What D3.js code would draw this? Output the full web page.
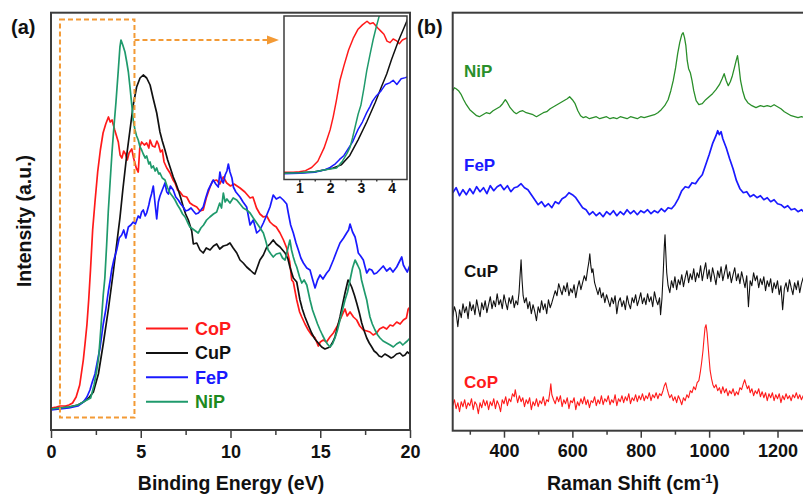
<!DOCTYPE html>
<html>
<head>
<meta charset="utf-8">
<script src="https://cdn.jsdelivr.net/npm/d3@7"></script>
<style>
  body { margin: 0; background: #fff; }
  text { font-family: Arial, "Liberation Sans", sans-serif; font-weight: bold; }
</style>
</head>
<body>
<div id="chart"></div>
<script>
// ---------- data: (a) valence band XPS, [binding energy eV, intensity a.u.] ----------
var xpsCoP = [[0,22],[0.3,23],[0.5,24],[0.8,24],[1.0,25],[1.2,27],[1.4,33],[1.6,45],[1.8,70],[1.9,87],[2.0,105],[2.1,130],[2.2,160],[2.32,200],[2.45,228],[2.6,258],[2.75,280],[2.9,297],[3.05,306],[3.2,313],[3.3,308],[3.4,310],[3.55,300],[3.65,294],[3.75,288],[3.85,275],[3.95,272],[4.05,279],[4.15,276],[4.25,270],[4.35,277],[4.5,281],[4.6,272],[4.75,262],[4.86,258],[4.95,283],[5.05,288],[5.2,285],[5.33,287],[5.45,282],[5.52,290],[5.65,284],[5.79,283],[5.9,289],[5.98,286],[6.1,278],[6.2,280],[6.3,268],[6.45,262],[6.63,257],[6.8,250],[6.91,247],[7.05,240],[7.19,238],[7.35,234],[7.56,233],[7.74,227],[7.9,225],[8.12,223],[8.3,219],[8.48,220],[8.65,232],[8.86,243],[9.0,249],[9.23,250],[9.4,246],[9.6,253],[9.79,247],[10.0,244],[10.2,246],[10.53,242],[10.8,238],[11.09,232],[11.25,233],[11.45,222],[11.64,216],[11.83,213],[12.02,214],[12.2,208],[12.38,205],[12.55,203],[12.76,197],[12.95,190],[13.13,182],[13.3,168],[13.41,150],[13.5,148],[13.69,130],[13.85,118],[13.97,113],[14.15,106],[14.33,100],[14.52,95],[14.71,92],[14.89,84],[15.0,88],[15.17,90],[15.35,88],[15.54,93],[15.73,97],[15.92,103],[16.1,110],[16.25,116],[16.38,121],[16.5,114],[16.66,118],[16.85,113],[17.03,110],[17.2,104],[17.4,100],[17.6,99],[17.77,98],[17.95,95],[18.14,97],[18.3,101],[18.51,103],[18.7,101],[18.89,105],[19.05,104],[19.26,108],[19.45,106],[19.63,110],[19.8,112],[19.9,121],[20,123]];
var xpsCuP = [[0,21],[0.5,22],[1.0,23],[1.5,25],[1.8,28],[2.1,32],[2.36,38],[2.64,56],[2.91,86],[3.19,120],[3.47,158],[3.66,186],[3.84,212],[4.0,240],[4.22,275],[4.4,300],[4.58,325],[4.77,343],[4.96,352],[5.14,355],[5.33,352],[5.52,345],[5.7,331],[5.89,317],[6.07,298],[6.2,289],[6.35,280],[6.5,270],[6.63,263],[6.81,253],[6.95,247],[7.09,240],[7.23,232],[7.37,223],[7.5,216],[7.65,210],[7.84,199],[7.93,186],[8.12,187],[8.3,180],[8.48,177],[8.65,182],[8.86,180],[9.05,184],[9.23,186],[9.4,181],[9.6,184],[9.8,185],[9.97,187],[10.15,182],[10.35,177],[10.53,170],[10.71,167],[10.9,163],[11.09,160],[11.27,157],[11.36,156],[11.5,163],[11.64,170],[11.83,175],[12.02,183],[12.2,186],[12.38,190],[12.55,186],[12.76,183],[12.9,180],[13.04,177],[13.2,171],[13.31,163],[13.5,152],[13.69,148],[13.87,130],[14.0,121],[14.15,113],[14.33,105],[14.52,97],[14.7,91],[14.89,87],[15.08,83],[15.26,81],[15.4,82],[15.54,83],[15.7,88],[15.82,93],[15.95,102],[16.1,113],[16.25,126],[16.38,137],[16.55,150],[16.62,148],[16.75,143],[16.9,135],[17.03,127],[17.18,117],[17.31,107],[17.45,99],[17.59,92],[17.73,87],[17.87,83],[18.0,79],[18.14,77],[18.28,74],[18.42,73],[18.6,76],[18.79,74],[18.95,72],[19.07,73],[19.25,76],[19.44,77],[19.6,74],[19.72,75],[19.85,78],[20,76]];
var xpsFeP = [[0,20],[0.5,21],[1.0,22],[1.5,24],[1.8,28],[2.0,33],[2.17,40],[2.3,48],[2.45,56],[2.6,70],[2.73,82],[2.85,98],[2.91,106],[3.05,120],[3.19,138],[3.3,150],[3.38,160],[3.5,170],[3.66,180],[3.8,192],[3.94,195],[4.05,200],[4.17,192],[4.31,203],[4.45,205],[4.58,208],[4.7,206],[4.86,214],[4.96,212],[5.05,218],[5.14,220],[5.25,214],[5.33,217],[5.45,225],[5.52,231],[5.6,236],[5.7,244],[5.8,226],[5.89,211],[5.98,228],[6.07,234],[6.2,240],[6.35,247],[6.45,238],[6.54,236],[6.65,244],[6.81,240],[6.95,233],[7.09,230],[7.23,226],[7.37,223],[7.5,219],[7.65,220],[7.8,222],[7.93,219],[8.07,216],[8.21,217],[8.35,220],[8.48,223],[8.62,232],[8.76,240],[8.9,245],[9.04,250],[9.18,246],[9.32,243],[9.41,258],[9.5,250],[9.6,247],[9.7,255],[9.8,259],[9.88,266],[9.97,258],[10.08,252],[10.16,243],[10.3,238],[10.53,233],[10.7,228],[10.9,223],[11.09,205],[11.27,210],[11.46,197],[11.64,200],[11.83,207],[12.02,215],[12.2,223],[12.38,235],[12.55,231],[12.76,233],[12.94,230],[13.13,226],[13.22,217],[13.35,205],[13.5,197],[13.65,187],[13.78,180],[13.92,172],[14.06,167],[14.25,162],[14.43,160],[14.55,152],[14.71,142],[14.85,150],[14.99,155],[15.15,151],[15.36,157],[15.5,160],[15.73,170],[15.9,178],[16.1,187],[16.3,192],[16.47,197],[16.58,200],[16.66,206],[16.8,198],[16.94,193],[17.05,184],[17.12,177],[17.25,174],[17.4,170],[17.5,163],[17.59,157],[17.73,161],[17.87,160],[18.0,156],[18.14,157],[18.3,160],[18.51,164],[18.7,159],[18.89,162],[19.05,158],[19.26,163],[19.4,168],[19.54,173],[19.63,165],[19.72,162],[19.85,158],[20,165]];
var xpsNiP = [[0,21],[0.5,22],[1.0,23],[1.5,25],[1.8,28],[2.0,30],[2.21,32],[2.4,45],[2.55,60],[2.65,72],[2.73,90],[2.81,110],[2.91,135],[3.0,152],[3.1,185],[3.19,218],[3.3,250],[3.4,278],[3.5,302],[3.62,328],[3.75,360],[3.84,383],[3.9,390],[4.0,385],[4.12,378],[4.22,368],[4.31,358],[4.4,343],[4.5,325],[4.58,310],[4.68,300],[4.77,294],[4.86,290],[4.96,283],[5.05,280],[5.14,276],[5.25,272],[5.33,274],[5.45,266],[5.52,268],[5.6,262],[5.7,264],[5.8,259],[5.89,262],[6.0,256],[6.07,257],[6.2,252],[6.35,250],[6.5,242],[6.63,237],[6.8,233],[6.91,230],[7.05,225],[7.19,221],[7.33,216],[7.47,213],[7.6,208],[7.74,203],[7.9,201],[8.05,199],[8.2,197],[8.35,202],[8.5,205],[8.67,210],[8.85,213],[9.05,216],[9.23,218],[9.4,227],[9.5,222],[9.6,237],[9.7,228],[9.8,231],[9.97,227],[10.15,232],[10.35,230],[10.53,226],[10.71,222],[10.9,220],[11.09,217],[11.27,212],[11.46,207],[11.65,202],[11.83,197],[11.95,190],[12.1,180],[12.25,176],[12.38,173],[12.55,176],[12.76,177],[12.9,172],[13.04,170],[13.15,178],[13.31,190],[13.4,180],[13.5,173],[13.6,167],[13.69,163],[13.85,153],[13.97,147],[14.1,150],[14.25,145],[14.43,130],[14.57,120],[14.71,113],[14.85,106],[14.99,100],[15.12,95],[15.26,90],[15.4,86],[15.54,83],[15.68,86],[15.82,92],[15.96,100],[16.1,110],[16.24,120],[16.38,130],[16.52,138],[16.66,150],[16.8,162],[16.94,170],[17.08,165],[17.21,160],[17.3,150],[17.4,143],[17.5,136],[17.59,130],[17.68,121],[17.77,113],[17.9,106],[18.05,100],[18.2,95],[18.33,92],[18.5,89],[18.7,87],[18.9,85],[19.07,83],[19.25,86],[19.44,88],[19.6,85],[19.72,87],[19.85,89],[20,92]];

// ---------- data: (b) Raman spectra, [shift cm-1, intensity a.u. (offset)] ----------
var ramanNiP = [[250,340],[255,343],[260,342],[267,340],[275,336],[282,331],[290,326],[300,321],[310,318],[320,315],[328,314],[338,316],[348,318],[358,317],[368,320],[378,322],[388,324],[396,327],[404,331],[410,328],[418,323],[428,319],[436,317],[445,319],[455,320],[465,318],[475,317],[485,316],[495,314],[505,316],[515,318],[525,319],[535,322],[545,324],[555,326],[565,328],[575,330],[585,332],[592,334],[600,331],[608,327],[616,320],[624,315],[632,313],[640,314],[650,312],[660,313],[670,314],[680,312],[690,313],[700,314],[710,312],[720,313],[730,312],[740,314],[750,313],[760,312],[770,314],[780,313],[790,312],[800,314],[810,313],[820,314],[830,315],[840,316],[850,318],[860,321],[870,325],[880,331],[888,340],[895,350],[902,363],[908,377],[914,388],[920,396],[924,398],[928,393],[932,385],[936,370],[940,362],[945,358],[950,350],[955,340],[962,330],[970,326],[980,327],[990,331],[1000,334],[1010,337],[1020,341],[1030,346],[1038,352],[1044,357],[1050,350],[1056,345],[1062,349],[1068,355],[1074,363],[1079,370],[1083,375],[1087,365],[1092,350],[1098,340],[1105,332],[1113,328],[1125,325],[1137,323],[1150,325],[1160,324],[1170,325],[1180,324],[1190,326],[1200,324],[1210,322],[1220,319],[1230,317],[1240,315],[1250,314],[1260,313],[1270,314],[1280,313],[1300,313]];
var ramanFeP = [[250,238],[260,243],[270,235],[280,241],[290,236],[300,242],[310,237],[320,244],[330,239],[340,243],[350,237],[360,245],[370,240],[380,244],[390,246],[400,241],[410,245],[420,239],[430,243],[440,244],[450,247],[460,243],[470,241],[480,236],[490,231],[500,226],[510,229],[520,224],[530,227],[540,223],[550,229],[560,227],[570,232],[580,234],[590,238],[600,236],[610,233],[620,228],[630,223],[640,221],[650,216],[660,219],[670,215],[680,218],[690,214],[700,219],[710,216],[720,220],[730,215],[740,219],[750,216],[760,221],[770,217],[780,220],[790,216],[800,220],[810,218],[820,221],[830,217],[840,220],[850,218],[860,222],[870,219],[880,223],[890,222],[900,226],[910,232],[920,240],[930,244],[940,243],[950,248],[960,247],[970,252],[980,256],[990,266],[1000,276],[1010,287],[1020,295],[1025,300],[1030,296],[1035,299],[1040,292],[1050,283],[1060,272],[1070,262],[1080,250],[1090,242],[1100,238],[1110,239],[1120,234],[1130,236],[1140,233],[1150,235],[1160,231],[1170,233],[1180,229],[1190,231],[1200,227],[1210,226],[1220,223],[1230,225],[1240,221],[1250,222],[1260,219],[1270,221],[1280,218],[1300,219]];
var ramanCuP = [[250,114],[255,124],[260,118],[265,104],[270,121],[275,113],[280,127],[285,118],[290,124],[295,112],[300,129],[305,120],[310,126],[315,116],[320,131],[325,122],[330,114],[335,128],[340,121],[345,130],[350,118],[355,126],[360,134],[365,122],[370,130],[375,124],[380,137],[385,126],[390,131],[395,122],[400,136],[405,128],[410,121],[415,133],[420,127],[425,135],[430,123],[435,130],[440,126],[444,138],[447,155],[450,171],[453,150],[456,135],[460,128],[465,133],[470,122],[475,129],[480,117],[485,126],[490,119],[495,110],[500,124],[505,118],[510,130],[515,121],[520,127],[525,117],[530,131],[535,123],[540,128],[545,134],[550,140],[555,135],[560,147],[565,141],[570,136],[575,145],[580,139],[585,148],[590,135],[595,142],[600,138],[605,146],[610,133],[615,143],[620,150],[625,141],[630,148],[635,155],[640,150],[645,162],[648,168],[651,177],[654,165],[657,158],[660,162],[665,148],[670,142],[675,136],[680,143],[685,133],[690,138],[695,128],[700,136],[705,130],[710,124],[715,133],[720,127],[725,135],[730,117],[735,129],[740,133],[745,124],[750,130],[755,121],[760,135],[765,127],[770,122],[775,133],[780,128],[785,136],[790,125],[795,131],[800,138],[805,127],[810,133],[815,126],[820,137],[825,129],[830,134],[835,124],[840,139],[845,131],[850,126],[855,133],[858,116],[862,132],[866,160],[869,185],[871,196],[873,180],[876,158],[880,145],[885,138],[890,150],[895,143],[900,154],[905,141],[910,151],[915,146],[920,156],[925,144],[930,153],[935,160],[940,148],[945,157],[950,151],[955,162],[960,149],[965,158],[970,153],[975,165],[980,150],[985,160],[990,168],[995,152],[1000,161],[1005,149],[1010,163],[1015,155],[1020,146],[1025,160],[1030,153],[1035,164],[1040,150],[1045,158],[1050,166],[1055,152],[1060,159],[1065,148],[1070,156],[1075,163],[1080,150],[1085,157],[1090,147],[1095,159],[1100,151],[1105,143],[1110,155],[1115,124],[1120,150],[1125,145],[1130,158],[1135,150],[1140,155],[1145,143],[1150,152],[1155,146],[1160,154],[1165,140],[1170,150],[1175,144],[1180,152],[1185,138],[1190,148],[1195,142],[1200,150],[1205,136],[1210,145],[1215,121],[1220,142],[1225,148],[1230,139],[1235,151],[1240,143],[1245,136],[1250,148],[1255,141],[1260,150],[1265,138],[1270,147],[1275,153],[1280,144],[1290,149],[1300,146]];
var ramanCoP = [[250,25],[255,31],[260,22],[265,28],[270,19],[275,29],[280,24],[285,31],[290,22],[295,28],[300,25],[305,32],[310,21],[315,29],[320,26],[325,17],[330,28],[335,23],[340,31],[345,25],[350,30],[355,21],[360,29],[365,25],[370,32],[375,22],[380,30],[385,26],[390,19],[395,31],[400,27],[405,34],[410,25],[415,32],[420,29],[425,37],[430,34],[433,41],[437,33],[440,28],[445,35],[450,29],[455,33],[460,24],[465,31],[470,27],[475,33],[480,21],[485,29],[490,25],[495,32],[500,24],[505,30],[510,27],[515,34],[520,25],[525,31],[530,29],[534,38],[537,47],[540,36],[545,31],[550,27],[555,34],[560,29],[565,35],[570,24],[575,31],[580,27],[585,33],[590,22],[595,30],[600,28],[605,33],[610,21],[615,29],[620,25],[625,32],[630,27],[635,34],[640,26],[645,31],[650,23],[655,30],[660,28],[665,34],[670,25],[675,31],[680,27],[685,35],[690,26],[695,32],[700,29],[705,35],[710,26],[715,31],[720,28],[725,36],[730,25],[735,32],[740,29],[745,35],[750,28],[755,34],[760,30],[765,37],[770,27],[775,33],[780,30],[785,36],[790,29],[795,35],[800,31],[805,37],[810,30],[815,35],[820,32],[825,38],[830,30],[835,36],[840,33],[845,38],[850,32],[855,37],[860,35],[865,40],[869,45],[873,48],[877,42],[881,37],[885,33],[890,36],[895,30],[900,34],[905,28],[910,35],[915,31],[920,26],[925,33],[930,30],[935,36],[940,33],[945,40],[950,38],[955,44],[960,41],[965,48],[970,50],[974,58],[978,68],[982,80],[985,92],[988,103],[991,106],[994,98],[997,85],[1000,72],[1003,60],[1007,52],[1011,46],[1015,43],[1020,46],[1025,40],[1030,43],[1035,37],[1040,44],[1045,38],[1050,42],[1055,35],[1060,40],[1065,37],[1070,42],[1075,35],[1080,39],[1085,36],[1090,43],[1095,41],[1100,47],[1104,51],[1108,46],[1112,42],[1116,45],[1120,38],[1125,42],[1130,35],[1135,40],[1140,37],[1145,42],[1150,34],[1155,39],[1160,33],[1165,38],[1170,30],[1175,37],[1180,33],[1185,38],[1190,30],[1195,36],[1200,32],[1205,37],[1210,28],[1215,35],[1220,31],[1225,37],[1230,32],[1235,35],[1240,30],[1245,36],[1250,33],[1255,38],[1260,32],[1265,36],[1270,31],[1275,35],[1280,34],[1290,32],[1300,35]];

// ticks
var xpsTicks = [0, 5, 10, 15, 20];
var xpsMinor = [2.5, 7.5, 12.5, 17.5];
var insetTicks = [1, 2, 3, 4];
var insetMinor = [1.5, 2.5, 3.5];
var ramanTicks = [400, 600, 800, 1000, 1200];
var ramanMinor = [300, 500, 700, 900, 1100, 1300];

var xpsSeries = [
  { name: "CoP", data: xpsCoP, color: "#ff1a1a", label: "#ff1a1a" },
  { name: "CuP", data: xpsCuP, color: "#111111", label: "#111111" },
  { name: "FeP", data: xpsFeP, color: "#1a1aff", label: "#1a1aff" },
  { name: "NiP", data: xpsNiP, color: "#1f9a6c", label: "#1e8a1e" }
];
var ramanSeries = [
  { name: "NiP", data: ramanNiP, color: "#2a8f2a", ly: 76.5, w: 1.3 },
  { name: "FeP", data: ramanFeP, color: "#1a1aff", ly: 170.5, w: 1.7 },
  { name: "CuP", data: ramanCuP, color: "#111111", ly: 276.5, w: 1.1 },
  { name: "CoP", data: ramanCoP, color: "#ff1a1a", ly: 388, w: 1.1 }
];

var W = 803, H = 497;
var frame = "#3c3c3c";
var orange = "#f39a35";

var svg = d3.select("#chart")
  .append("svg")
  .attr("width", W)
  .attr("height", H);

var defs = svg.append("defs");

// ================= panel (a) =================
var xA = d3.scaleLinear().domain([0, 20]).range([51, 410]);
var yA = d3.scaleLinear().domain([0, 418]).range([430, 12]);

defs.append("clipPath").attr("id", "clipA")
  .append("rect").attr("x", 51).attr("y", 12).attr("width", 359).attr("height", 418);

var lineA = d3.line()
  .x(function (d) { return xA(d[0]); })
  .y(function (d) { return yA(d[1]); });

svg.append("g")
  .attr("clip-path", "url(#clipA)")
  .selectAll("path")
  .data(xpsSeries)
  .enter()
  .append("path")
  .attr("d", function (d) { return lineA(d.data); })
  .attr("fill", "none")
  .attr("stroke", function (d) { return d.color; })
  .attr("stroke-width", 1.7)
  .attr("stroke-linejoin", "round");

// orange dashed zoom box + arrow
svg.append("rect")
  .attr("x", xA(0.5)).attr("y", yA(410.5))
  .attr("width", xA(4.65) - xA(0.5))
  .attr("height", yA(12.5) - yA(410.5))
  .attr("fill", "none")
  .attr("stroke", orange)
  .attr("stroke-width", 2)
  .attr("stroke-dasharray", "5,3");

svg.append("line")
  .attr("x1", xA(4.65)).attr("x2", 268)
  .attr("y1", 40).attr("y2", 40)
  .attr("stroke", orange)
  .attr("stroke-width", 2)
  .attr("stroke-dasharray", "5,3");
svg.append("path")
  .attr("d", "M267,35.5 L279,40 L267,44.5 Z")
  .attr("fill", orange);

// frame
svg.append("rect")
  .attr("x", 51).attr("y", 12.7)
  .attr("width", 359).attr("height", 417.3)
  .attr("fill", "none")
  .attr("stroke", frame)
  .attr("stroke-width", 2);

// x axis
var axA = svg.append("g")
  .attr("transform", "translate(0,430)")
  .call(d3.axisBottom(xA).tickValues(xpsTicks).tickSize(8).tickPadding(7).tickFormat(d3.format("d")));
svg.append("g")
  .attr("transform", "translate(0,430)")
  .call(d3.axisBottom(xA).tickValues(xpsMinor).tickSize(5).tickFormat(""));

// legend
var leg = svg.append("g");
xpsSeries.forEach(function (s, i) {
  var ly = 328.5 + i * 24.4;
  leg.append("line")
    .attr("x1", 146).attr("x2", 188)
    .attr("y1", ly).attr("y2", ly)
    .attr("stroke", s.color)
    .attr("stroke-width", 2);
  leg.append("text")
    .attr("x", 195).attr("y", ly + 6.5)
    .attr("fill", s.label)
    .style("font-size", "18px")
    .text(s.name);
});

// ---- inset ----
var xI = d3.scaleLinear().domain([0.5, 4.5]).range([284, 407]);
var yI = d3.scaleLinear().domain([10, 323]).range([179.5, 16]);

svg.append("rect")
  .attr("x", 284).attr("y", 16)
  .attr("width", 123).attr("height", 163.5)
  .attr("fill", "#fff");

defs.append("clipPath").attr("id", "clipI")
  .append("rect").attr("x", 284).attr("y", 16).attr("width", 123).attr("height", 163.5);

var lineI = d3.line()
  .x(function (d) { return xI(d[0]); })
  .y(function (d) { return yI(d[1]); });

svg.append("g")
  .attr("clip-path", "url(#clipI)")
  .selectAll("path")
  .data(xpsSeries)
  .enter()
  .append("path")
  .attr("d", function (d) { return lineI(d.data); })
  .attr("fill", "none")
  .attr("stroke", function (d) { return d.color; })
  .attr("stroke-width", 1.5)
  .attr("stroke-linejoin", "round");

svg.append("rect")
  .attr("x", 284).attr("y", 16)
  .attr("width", 123).attr("height", 163.5)
  .attr("fill", "none")
  .attr("stroke", frame)
  .attr("stroke-width", 1.5);

var axI = svg.append("g")
  .attr("transform", "translate(0,179.5)")
  .call(d3.axisBottom(xI).tickValues(insetTicks).tickSize(3).tickPadding(1).tickFormat(d3.format("d")));
svg.append("g")
  .attr("transform", "translate(0,179.5)")
  .call(d3.axisBottom(xI).tickValues(insetMinor).tickSize(2).tickFormat(""));
axI.selectAll("text").style("font-size", "14px");

// titles (a)
svg.append("text")
  .attr("transform", "translate(31,221) rotate(-90)")
  .attr("text-anchor", "middle")
  .style("font-size", "19.5px")
  .attr("fill", "#111")
  .text("Intensity (a.u.)");

svg.append("text")
  .attr("x", 231).attr("y", 489.5)
  .attr("text-anchor", "middle")
  .style("font-size", "19.5px")
  .attr("fill", "#111")
  .text("Binding Energy (eV)");

svg.append("text")
  .attr("x", 11).attr("y", 34)
  .style("font-size", "20px")
  .attr("fill", "#111")
  .text("(a)");

// ================= panel (b) =================
var xB = d3.scaleLinear().domain([250, 1300]).range([452.7, 811.7]);
var yB = d3.scaleLinear().domain([0, 418]).range([430.7, 12.7]);

defs.append("clipPath").attr("id", "clipB")
  .append("rect").attr("x", 452.7).attr("y", 12.7).attr("width", 359).attr("height", 418);

var lineB = d3.line()
  .x(function (d) { return xB(d[0]); })
  .y(function (d) { return yB(d[1]); });

svg.append("g")
  .attr("clip-path", "url(#clipB)")
  .selectAll("path")
  .data(ramanSeries)
  .enter()
  .append("path")
  .attr("d", function (d) { return lineB(d.data); })
  .attr("fill", "none")
  .attr("stroke", function (d) { return d.color; })
  .attr("stroke-width", function (d) { return d.w; })
  .attr("stroke-linejoin", "round");

// sample labels
svg.append("g")
  .selectAll("text")
  .data(ramanSeries)
  .enter()
  .append("text")
  .attr("x", 464)
  .attr("y", function (d) { return d.ly; })
  .attr("fill", function (d) { return d.color; })
  .style("font-size", "17px")
  .text(function (d) { return d.name; });

svg.append("rect")
  .attr("x", 452.7).attr("y", 12.7)
  .attr("width", 360).attr("height", 418)
  .attr("fill", "none")
  .attr("stroke", frame)
  .attr("stroke-width", 2);

var axB = svg.append("g")
  .attr("transform", "translate(0,430.7)")
  .call(d3.axisBottom(xB).tickValues(ramanTicks).tickSize(7).tickPadding(7).tickFormat(d3.format("d")));
svg.append("g")
  .attr("transform", "translate(0,430.7)")
  .call(d3.axisBottom(xB).tickValues(ramanMinor).tickSize(4).tickFormat(""));

var rt = svg.append("text")
  .attr("x", 633).attr("y", 489.5)
  .attr("text-anchor", "middle")
  .style("font-size", "19.5px")
  .attr("fill", "#111");
rt.append("tspan").text("Raman Shift (cm");
rt.append("tspan").attr("dy", -7).style("font-size", "13px").text("-1");
rt.append("tspan").attr("dy", 7).text(")");

svg.append("text")
  .attr("x", 417).attr("y", 34)
  .style("font-size", "20px")
  .attr("fill", "#111")
  .text("(b)");

// axis styling
svg.selectAll(".domain").remove();
svg.selectAll(".tick line").attr("stroke", frame).attr("stroke-width", 1.5);
axA.selectAll("text").style("font-size", "18px").attr("fill", "#111");
axB.selectAll("text").style("font-size", "18px").attr("fill", "#111");
axI.selectAll("text").attr("fill", "#111");
</script>
</body>
</html>
